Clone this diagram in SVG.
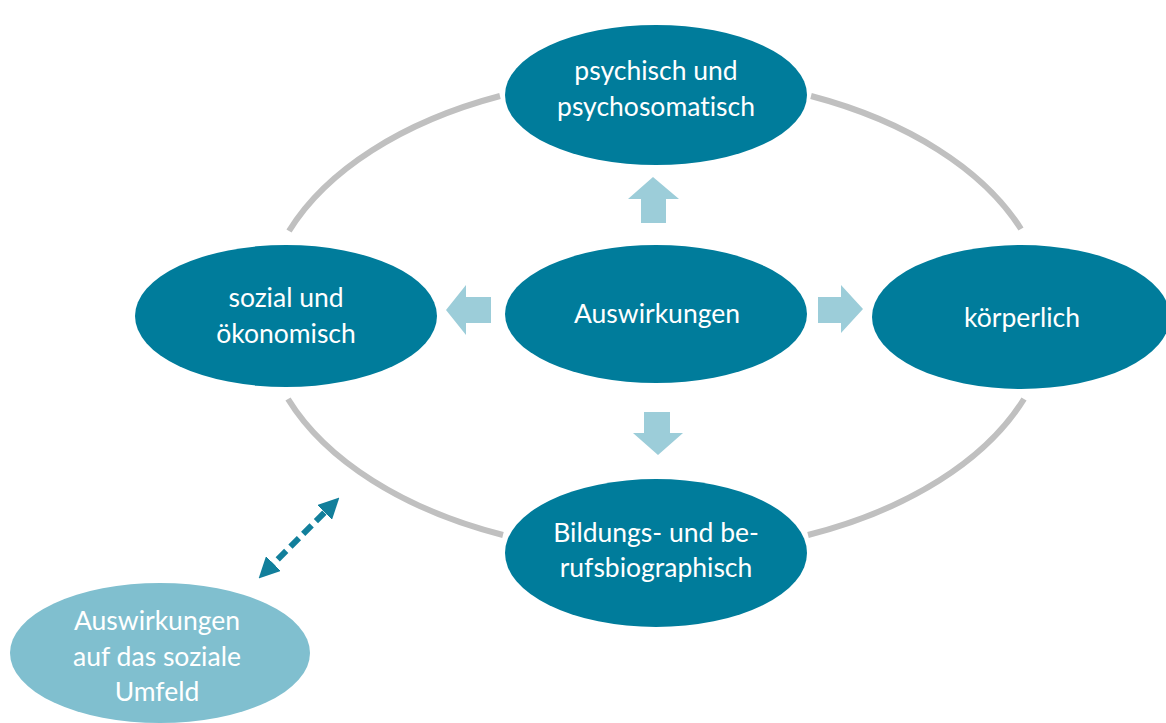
<svg xmlns="http://www.w3.org/2000/svg" width="1166" height="723" viewBox="0 0 1166 723">
<style>
.node{fill:#007c9b}
.light{fill:#80bfcf}
.t{font-family:Lato,"Open Sans",sans-serif;font-size:26.5px;fill:#ffffff;text-anchor:middle;dominant-baseline:central;font-variant-ligatures:none}
.ring{fill:none;stroke:#c0c0c0;stroke-width:6}
.blk{fill:#9ccdd9}
</style>
<defs>
<marker id="ah" viewBox="0 0 10 10" refX="5.7" refY="5" markerWidth="21" markerHeight="21" orient="auto-start-reverse" markerUnits="userSpaceOnUse">
<path d="M0,0 L10,5 L0,10 z" fill="#127f9b"/>
</marker>
</defs>
<rect width="1166" height="723" fill="#ffffff"/>
<g id="connectors">
<path class="ring" d="M500,96 A392 238 0 0 0 289,231"/>
<path class="ring" d="M811,96 A392 238 0 0 1 1021,229"/>
<path class="ring" d="M1024,399 A392 238 0 0 1 808,535"/>
<path class="ring" d="M288,399 A392 238 0 0 0 503,535"/>
<path class="blk" d="M653,177 L679,199 L666,199 L666,223 L641,223 L641,199 L628,199 z"/>
<path class="blk" d="M446,310 L466,285 L466,297 L491,297 L491,323 L466,323 L466,335 z"/>
<path class="blk" d="M863,309 L841,285 L841,297 L818,297 L818,323 L841,323 L841,333 z"/>
<path class="blk" d="M658,455 L683,433 L670,433 L670,412 L644,412 L644,433 L633,433 z"/>
<line x1="265" y1="572" x2="333" y2="504" stroke="#127f9b" stroke-width="6" stroke-dasharray="12 6" marker-start="url(#ah)" marker-end="url(#ah)"/>
</g>
<g id="n-psych"><ellipse class="node" cx="656" cy="95" rx="151" ry="70"/><text class="t" x="656" y="70">psychisch und</text><text class="t" x="656" y="106">psychosomatisch</text></g>
<g id="n-center"><ellipse class="node" cx="656" cy="314" rx="151" ry="69"/><text class="t" x="657" y="313">Auswirkungen</text></g>
<g id="n-sozial"><ellipse class="node" cx="286" cy="316" rx="151" ry="71"/><text class="t" x="286" y="297">sozial und</text><text class="t" x="286" y="333">ökonomisch</text></g>
<g id="n-koerper"><ellipse class="node" cx="1021" cy="317" rx="149" ry="72"/><text class="t" x="1022" y="317">körperlich</text></g>
<g id="n-bildung"><ellipse class="node" cx="656" cy="553" rx="151" ry="74"/><text class="t" x="656" y="532">Bildungs- und be-</text><text class="t" x="656" y="567">rufsbiographisch</text></g>
<g id="n-umfeld"><ellipse class="light" cx="160" cy="653" rx="150" ry="70"/><text class="t" x="157" y="620">Auswirkungen</text><text class="t" x="157" y="656">auf das soziale</text><text class="t" x="157" y="691">Umfeld</text></g>
</svg>
